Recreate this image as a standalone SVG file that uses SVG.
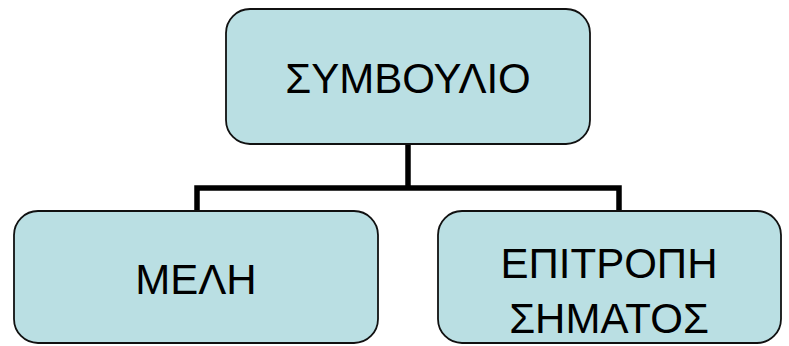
<svg xmlns="http://www.w3.org/2000/svg" width="789" height="346" viewBox="0 0 789 346">
<style>
.box{fill:#badfe3;stroke:#111;stroke-width:1.8}
.lbl{font-family:"Liberation Sans",Arial,sans-serif;font-size:42px;fill:#000;text-anchor:middle}
.conn{fill:none;stroke:#000;stroke-width:5.5}
</style>
<rect width="789" height="346" fill="#fff"/>
<g id="connectors">
<path class="conn" d="M408,144 V188"/>
<path class="conn" d="M197,211 V188 H619 V211"/>
</g>
<g id="node-symvoulio">
<rect class="box" x="226" y="9" width="364" height="135" rx="24"/>
<text class="lbl" x="408" y="93" font-size="43">ΣΥΜΒΟΥΛΙΟ</text>
</g>
<g id="node-meli">
<rect class="box" x="14" y="211" width="364" height="132" rx="24"/>
<text class="lbl" x="196" y="294">ΜΕΛΗ</text>
</g>
<g id="node-epitropi">
<rect class="box" x="438" y="211" width="343" height="132" rx="24"/>
<text class="lbl" x="609" y="278">ΕΠΙΤΡΟΠΗ</text>
<text class="lbl" x="609" y="333">ΣΗΜΑΤΟΣ</text>
</g>
</svg>
